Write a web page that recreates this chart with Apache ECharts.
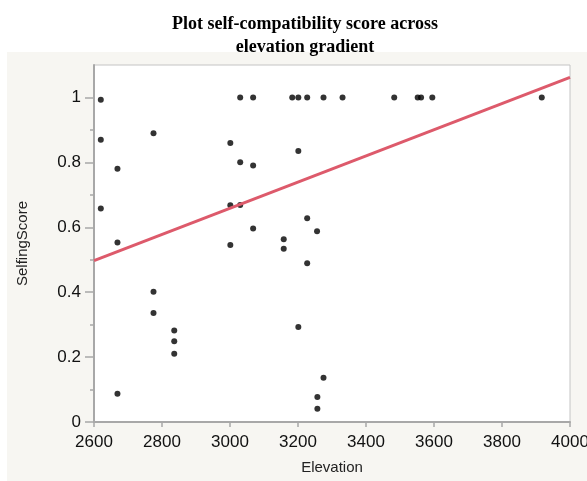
<!DOCTYPE html>
<html>
<head>
<meta charset="utf-8">
<script src="https://cdn.jsdelivr.net/npm/echarts@6/dist/echarts.min.js"></script>
<style>html,body{margin:0;padding:0;background:#fff;}#c{width:587px;height:481px;}</style>
</head>
<body>
<div id="c"></div>
<script>
const titleText = "Plot self-compatibility score across\nelevation gradient";
const xName = "Elevation";
const yName = "SelfingScore";
const elevation = [2620, 2620, 2620, 2669, 2669, 2669, 2775, 2775, 2775, 2836, 2836, 2836,
  3001, 3001, 3001, 3030, 3030, 3030, 3068, 3068, 3068, 3158, 3158, 3183, 3201, 3201, 3201,
  3227, 3227, 3227, 3256, 3257, 3257, 3275, 3275, 3331, 3483, 3552, 3562, 3595, 3917];
const score = [0.993, 0.87, 0.658, 0.78, 0.553, 0.087, 0.89, 0.401, 0.336, 0.282, 0.249, 0.21,
  0.86, 0.668, 0.545, 1.0, 0.80, 0.669, 1.0, 0.79, 0.596, 0.563, 0.534, 1.0, 1.0, 0.835, 0.293,
  1.0, 0.628, 0.489, 0.588, 0.077, 0.041, 1.0, 0.136, 1.0, 1.0, 1.0, 1.0, 1.0, 1.0];
const fitX = [2600, 4000];
const fitY = [0.497, 1.062];
const xTicks = [2600, 2800, 3000, 3200, 3400, 3600, 3800, 4000];
const yMajorTicks = [0, 0.2, 0.4, 0.6, 0.8, 1];
const yMinorTicks = [0.1, 0.3, 0.5, 0.7, 0.9];

const points = elevation.map((e, i) => [e, score[i]]);
const fitLine = fitX.map((e, i) => [e, fitY[i]]);

const chart = echarts.init(document.getElementById('c'));
const axisGray = '#a8a8a8';
const labelFont = 'Liberation Sans, Arial, sans-serif';
chart.setOption({
  backgroundColor: '#ffffff',
  animation: false,
  graphic: {
    elements: [{
      type: 'rect', z: -100, silent: true,
      shape: { x: 7, y: 52, width: 580, height: 429 },
      style: { fill: '#f7f6f2' }
    }]
  },
  title: {
    text: titleText,
    left: 300, top: 8, textAlign: 'center',
    textStyle: { fontFamily: 'Liberation Serif, Times New Roman, serif', fontWeight: 'bold', fontSize: 18, lineHeight: 23, color: '#000' }
  },
  grid: {
    left: 94, top: 65, width: 476, height: 357,
    outerBoundsMode: 'none', containLabel: false,
    show: true, backgroundColor: '#ffffff', borderColor: '#c4c4c4', borderWidth: 1
  },
  xAxis: {
    type: 'value', min: 2600, max: 4000, interval: 200,
    name: xName, nameLocation: 'middle', nameGap: 38,
    nameTextStyle: { fontFamily: labelFont, fontSize: 15, color: '#222' },
    axisLine: { show: true, lineStyle: { color: axisGray, width: 2 } },
    axisTick: { show: true, length: 5, lineStyle: { color: axisGray, width: 1.5 }, customValues: xTicks },
    axisLabel: { fontFamily: labelFont, fontSize: 17, color: '#111', margin: 12, customValues: xTicks,
      formatter: v => String(v) },
    splitLine: { show: false }
  },
  yAxis: [{
    type: 'value', min: 0, max: 1.1,
    name: yName, nameLocation: 'middle', nameGap: 64, nameRotate: 90,
    nameTextStyle: { fontFamily: labelFont, fontSize: 15, color: '#222' },
    axisLine: { show: true, lineStyle: { color: axisGray, width: 2 } },
    axisTick: { show: true, length: 9, lineStyle: { color: axisGray, width: 1.5 }, customValues: yMajorTicks },
    axisLabel: { fontFamily: labelFont, fontSize: 17, color: '#111', margin: 13, customValues: yMajorTicks,
      formatter: v => String(Math.round(v * 10) / 10) },
    splitLine: { show: false }
  }, {
    type: 'value', min: 0, max: 1.1, position: 'left',
    axisLine: { show: false },
    axisTick: { show: true, length: 4, lineStyle: { color: axisGray, width: 1.5 }, customValues: yMinorTicks },
    axisLabel: { show: false },
    splitLine: { show: false }
  }],
  series: [{
    type: 'scatter', data: points, symbolSize: 6,
    itemStyle: { color: '#000' }, z: 3
  }, {
    type: 'line', data: fitLine, symbol: 'none',
    lineStyle: { color: '#dd5a6b', width: 3 }, z: 4
  }]
});
</script>
</body>
</html>
